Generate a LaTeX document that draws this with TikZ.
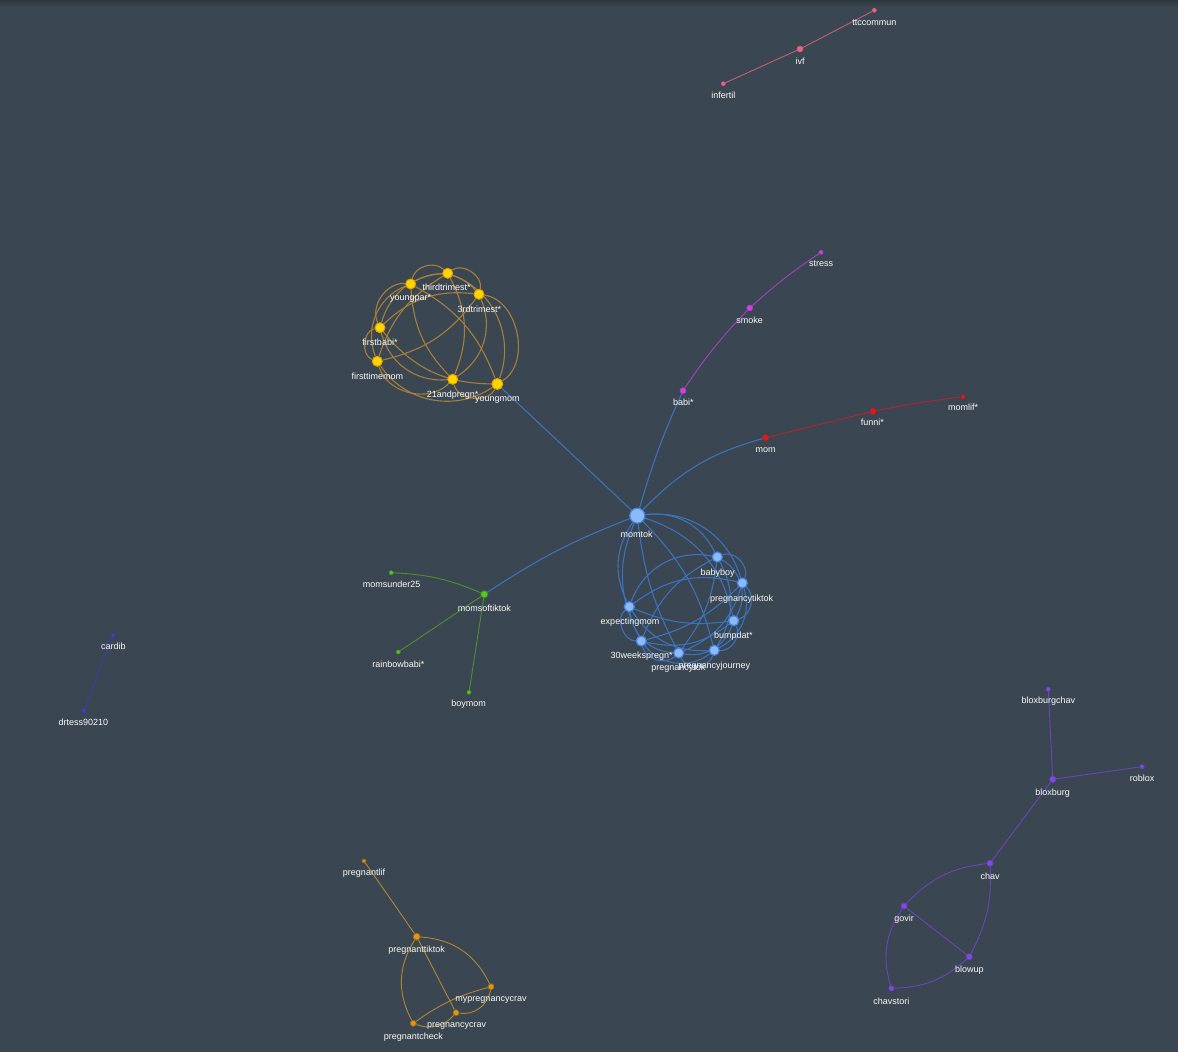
\documentclass[tikz,border=0pt]{standalone}
\usepackage{fontspec}
\setmainfont{Liberation Sans}
\pgfdeclarelayer{bglayer}
\pgfdeclarelayer{edgelayer}
\pgfsetlayers{bglayer,edgelayer,main}
\definecolor{bgc}{RGB}{58,70,81}
\definecolor{bgtop}{RGB}{44,54,63}
\definecolor{yfill}{RGB}{255,214,0}
\definecolor{ydraw}{RGB}{232,160,0}
\definecolor{yedge}{RGB}{165,128,58}
\definecolor{bfill}{RGB}{140,186,250}
\definecolor{bdraw}{RGB}{70,135,225}
\definecolor{bedge}{RGB}{60,114,186}
\definecolor{mfill}{RGB}{215,60,235}
\definecolor{medge}{RGB}{160,70,185}
\definecolor{rfill}{RGB}{235,20,20}
\definecolor{redge}{RGB}{180,35,45}
\definecolor{gfill}{RGB}{80,205,30}
\definecolor{gedge}{RGB}{75,145,45}
\definecolor{pfill}{RGB}{240,100,130}
\definecolor{pedge}{RGB}{195,95,120}
\definecolor{nfill}{RGB}{70,60,200}
\definecolor{nedge}{RGB}{60,60,170}
\definecolor{ofill}{RGB}{235,150,10}
\definecolor{oedge}{RGB}{175,135,55}
\definecolor{vfill}{RGB}{135,70,235}
\definecolor{vedge}{RGB}{105,70,185}
\definecolor{lblc}{RGB}{250,250,250}
\tikzset{
  gnode/.style={circle,inner sep=0pt,minimum size=#1},
  ynode/.style={gnode=#1,fill=yfill,draw=ydraw,line width=1pt},
  bnode/.style={gnode=#1,fill=bfill,draw=bdraw,line width=1.2pt},
  mnode/.style={gnode=#1,fill=mfill,draw=medge,line width=0.6pt},
  rnode/.style={gnode=#1,fill=rfill,draw=redge,line width=0.6pt},
  grnode/.style={gnode=#1,fill=gfill,draw=gedge,line width=0.8pt},
  pnode/.style={gnode=#1,fill=pfill,draw=pedge,line width=0.6pt},
  nnode/.style={gnode=#1,fill=nfill,draw=nedge,line width=0.6pt},
  onode/.style={gnode=#1,fill=ofill,draw=oedge!80!black,line width=0.8pt},
  vnode/.style={gnode=#1,fill=vfill,draw=vedge,line width=0.8pt},
  lbl/.style={text=lblc,inner sep=0pt,anchor=center,font=\fontsize{9}{10}\selectfont},
  edg/.style={line width=0.9pt},
  cedg/.style={line width=1.1pt}
}
\begin{document}
\begin{tikzpicture}[x=1pt,y=-1pt]
\begin{pgfonlayer}{bglayer}
\fill[bgc] (0,0) rectangle (1178,1052);
\shade[top color=bgtop,bottom color=bgc] (0,0) rectangle (1178,7);
\end{pgfonlayer}
\useasboundingbox (0,0) rectangle (1178,1052);

% pink
\node[pnode=4] (ttc) at (874.3,10.3) {};
\node[pnode=6] (ivf) at (800,49) {};
\node[pnode=4] (inf) at (723.3,83.7) {};
\node[lbl] (lttc) at (874.3,22.3) {ttccommun};
\node[lbl] (livf) at (800,61) {ivf};
\node[lbl] (linf) at (723.3,95) {infertil};

% yellow
\node[ynode=10] (y1) at (447.7,273.3) {};
\node[ynode=10] (y2) at (410.7,284) {};
\node[ynode=10] (y3) at (479,294.3) {};
\node[ynode=10] (y4) at (380,327.7) {};
\node[ynode=10] (y5) at (377.3,361.3) {};
\node[ynode=10] (y6) at (452.7,379.3) {};
\node[ynode=11] (y7) at (497.3,384) {};
\node[lbl] (ly1) at (446.7,287.7) {thirdtrimest*};
\node[lbl] (ly2) at (410.7,298.5) {youngpar*};
\node[lbl] (ly3) at (479.3,309.3) {3rdtrimest*};
\node[lbl] (ly4) at (380,342.7) {firstbabi*};
\node[lbl] (ly5) at (377.3,376.7) {firsttimemom};
\node[lbl] (ly6) at (452.7,395.2) {21andpregn*};
\node[lbl] (ly7) at (497.3,400) {youngmom};

% blue
\node[bnode=15] (b0) at (637.3,515.7) {};
\node[bnode=10] (b1) at (717.3,557) {};
\node[bnode=10] (b2) at (742.3,583) {};
\node[bnode=10] (b3) at (629.3,606.7) {};
\node[bnode=10] (b4) at (733.7,620.7) {};
\node[bnode=10] (b5) at (641.3,641) {};
\node[bnode=10] (b6) at (678.7,653) {};
\node[bnode=10] (b7) at (714.3,650.3) {};
\node[lbl] (lb0) at (636.7,534) {momtok};
\node[lbl] (lb1) at (717.7,573.3) {babyboy};
\node[lbl] (lb2) at (741.7,599.3) {pregnancytiktok};
\node[lbl] (lb3) at (630,622) {expectingmom};
\node[lbl] (lb4) at (733.3,636) {bumpdat*};
\node[lbl] (lb5) at (641.7,656) {30weekspregn*};
\node[lbl] (lb6) at (678.3,668.3) {pregnancytok};
\node[lbl] (lb7) at (714.3,666) {pregnancyjourney};

% magenta
\node[mnode=6] (m1) at (683,390.7) {};
\node[mnode=6] (m2) at (749.7,308) {};
\node[mnode=4] (m3) at (821,252.3) {};
\node[lbl] (lm1) at (683.3,402.7) {babi*};
\node[lbl] (lm2) at (749.7,320) {smoke};
\node[lbl] (lm3) at (821,264) {stress};

% red
\node[rnode=6] (r1) at (765.7,437.7) {};
\node[rnode=6] (r2) at (873,411.3) {};
\node[rnode=4] (r3) at (963,396.7) {};
\node[lbl] (lr1) at (765.7,450) {mom};
\node[lbl] (lr2) at (872.3,422.7) {funni*};
\node[lbl] (lr3) at (963,407.7) {momlif*};

% green
\node[grnode=7] (g0) at (484.3,594.3) {};
\node[grnode=4] (g1) at (391.3,572.7) {};
\node[grnode=4] (g2) at (398.3,652) {};
\node[grnode=4] (g3) at (469,692.3) {};
\node[lbl] (lg0) at (484.3,608) {momsoftiktok};
\node[lbl] (lg1) at (391.7,584.3) {momsunder25};
\node[lbl] (lg2) at (398.3,664) {rainbowbabi*};
\node[lbl] (lg3) at (468.7,704) {boymom};

% navy
\node[nnode=4] (n1) at (113,635.3) {};
\node[nnode=4] (n2) at (83.7,710.7) {};
\node[lbl] (ln1) at (113.3,646.7) {cardib};
\node[lbl] (ln2) at (83.3,722.7) {drtess90210};

% orange
\node[onode=4] (o1) at (364,861) {};
\node[onode=7] (o2) at (416.7,936.7) {};
\node[onode=6] (o3) at (491,986.7) {};
\node[onode=6] (o4) at (456,1012.7) {};
\node[onode=6] (o5) at (413.3,1023.3) {};
\node[lbl] (lo1) at (364,873.3) {pregnantlif};
\node[lbl] (lo2) at (416.7,950) {pregnanttiktok};
\node[lbl] (lo3) at (491,1000) {mypregnancycrav};
\node[lbl] (lo4) at (456.7,1026.2) {pregnancycrav};
\node[lbl] (lo5) at (413.3,1037.3) {pregnantcheck};

% violet
\node[vnode=4] (v1) at (1048.3,689.3) {};
\node[vnode=4] (v2) at (1142,766.7) {};
\node[vnode=6] (v3) at (1052.7,779.3) {};
\node[vnode=6] (v4) at (990,863.3) {};
\node[vnode=6] (v5) at (904,906) {};
\node[vnode=6] (v6) at (969.3,956.7) {};
\node[vnode=5] (v7) at (891.3,988.3) {};
\node[lbl] (lv1) at (1048.3,701) {bloxburgchav};
\node[lbl] (lv2) at (1142,778.3) {roblox};
\node[lbl] (lv3) at (1052.7,793.3) {bloxburg};
\node[lbl] (lv4) at (990,876.7) {chav};
\node[lbl] (lv5) at (904,919.3) {govir};
\node[lbl] (lv6) at (969.3,970) {blowup};
\node[lbl] (lv7) at (891.3,1001) {chavstori};

\begin{pgfonlayer}{edgelayer}
% pink
\draw[edg,pedge] (inf) -- (ivf) -- (ttc);
% yellow complete graph (clockwise ring order y1 y3 y7 y6 y5 y4 y2)
\foreach \a/\b/\c in {y1/y3/70,y1/y7/45,y1/y6/25,y1/y5/-20,y1/y4/-35,y1/y2/-60,
  y3/y7/70,y3/y6/40,y3/y5/20,y3/y4/-25,y3/y2/-40,
  y7/y6/70,y7/y5/45,y7/y4/25,y7/y2/-20,
  y6/y5/60,y6/y4/40,y6/y2/20,
  y5/y4/75,y5/y2/45,
  y4/y2/60}
  \draw[cedg,yedge] (\a) to[bend left=\c] (\b);
\draw[cedg,bedge] (b0) -- (y7);
% blue complete graph (clockwise ring order b0 b1 b2 b4 b7 b6 b5 b3)
\foreach \a/\b/\c in {b0/b1/35,b0/b2/40,b0/b4/30,b0/b7/15,b0/b6/-10,b0/b5/-25,b0/b3/-30,
  b1/b2/70,b1/b4/45,b1/b7/30,b1/b6/15,b1/b5/-20,b1/b3/-40,
  b2/b4/60,b2/b7/40,b2/b6/25,b2/b5/15,b2/b3/-25,
  b4/b7/60,b4/b6/40,b4/b5/25,b4/b3/15,
  b7/b6/70,b7/b5/45,b7/b3/30,
  b6/b5/60,b6/b3/40,
  b5/b3/70}
  \draw[cedg,bedge] (\a) to[bend left=\c] (\b);
\draw[cedg,bedge] (b0) to[bend left=4] (m1);
\draw[cedg,bedge] (b0) to[bend left=15] (r1);
\draw[cedg,bedge] (b0) to[bend right=6] (g0);
% magenta
\draw[edg,medge] (m1) to[bend left=5] (m2);
\draw[edg,medge] (m2) to[bend left=4] (m3);
% red
\draw[edg,redge] (r1) -- (r2);
\draw[edg,redge] (r2) to[bend left=2] (r3);
% green
\draw[edg,gedge] (g1) to[bend left=10] (g0);
\draw[edg,gedge] (g0) -- (g2);
\draw[edg,gedge] (g0) -- (g3);
% navy
\draw[edg,nedge] (n1) -- (n2);
% orange
\draw[edg,oedge] (o1) -- (o2);
\draw[edg,oedge] (o2) to[bend left=30] (o3);
\draw[edg,oedge] (o2) -- (o4);
\draw[edg,oedge] (o2) to[bend right=30] (o5);
\draw[edg,oedge] (o3) to[bend left=45] (o4);
\draw[edg,oedge] (o3) to[bend right=10] (o5);
\draw[edg,oedge] (o4) to[bend left=35] (o5);
% violet
\draw[edg,vedge] (v1) -- (v3);
\draw[edg,vedge] (v3) -- (v2);
\draw[edg,vedge] (v3) -- (v4);
\draw[edg,vedge] (v4) to[bend right=20] (v5);
\draw[edg,vedge] (v4) to[bend left=15] (v6);
\draw[edg,vedge] (v5) -- (v6);
\draw[edg,vedge] (v5) to[bend right=25] (v7);
\draw[edg,vedge] (v7) to[bend right=20] (v6);
\end{pgfonlayer}
\end{tikzpicture}
\end{document}
